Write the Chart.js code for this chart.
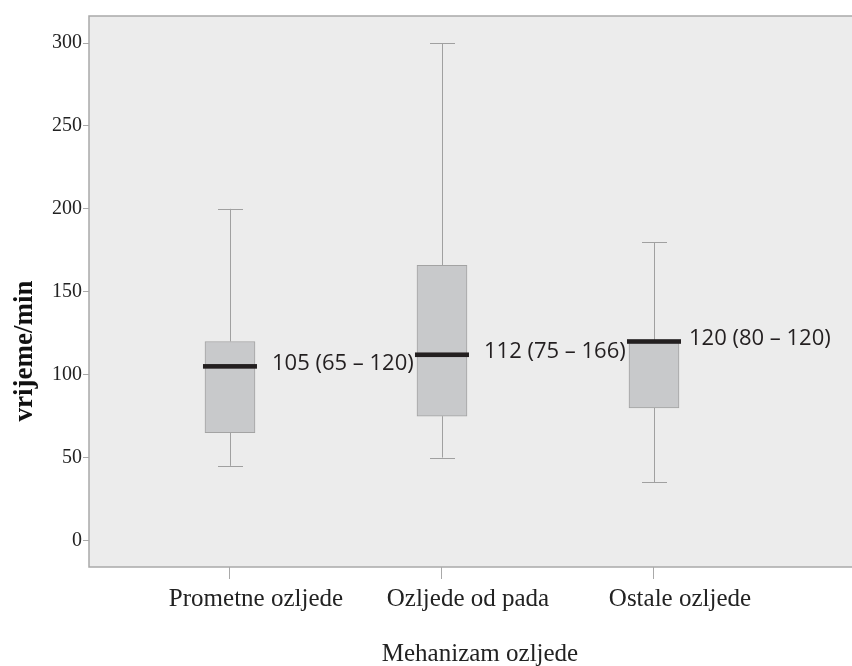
<!DOCTYPE html>
<html>
<head>
<meta charset="utf-8">
<script src="https://cdn.jsdelivr.net/npm/chart.js@4"></script>
<style>
  html, body { margin: 0; padding: 0; background: #fff; }
  canvas { display: block; }
</style>
</head>
<body>
<canvas id="chartCanvas" width="852" height="666"></canvas>
<script>
// --- data ---
const categories = ["Prometne ozljede", "Ozljede od pada", "Ostale ozljede"];
const whiskerLow = [45, 50, 35];
const q1 = [65, 75, 80];
const median = [105, 112, 120];
const q3 = [120, 166, 120];
const whiskerHigh = [200, 300, 180];
const medianLabels = ["105 (65 – 120)", "112 (75 – 166)", "120 (80 – 120)"];
const yTicks = [0, 50, 100, 150, 200, 250, 300];

const xTitle = "Mehanizam ozljede";
const yTitle = "vrijeme/min";

const serif = '"Liberation Serif", "Times New Roman", serif';
const sans = '"Open Sans", "Noto Sans", sans-serif';

// --- plot background + frame ---
const backdrop = {
  id: "backdrop",
  beforeDraw(chart) {
    const { ctx, chartArea: a } = chart;
    ctx.save();
    ctx.fillStyle = "#ececec";
    ctx.fillRect(a.left, a.top, a.right - a.left, a.bottom - a.top);
    ctx.strokeStyle = "#a9a9a9";
    ctx.lineWidth = 1.5;
    ctx.beginPath();
    ctx.moveTo(a.right, a.top);
    ctx.lineTo(a.left, a.top);
    ctx.lineTo(a.left, a.bottom);
    ctx.lineTo(a.right, a.bottom);
    ctx.stroke();
    ctx.restore();
  }
};

// --- whiskers, medians and labels ---
const boxParts = {
  id: "boxParts",
  beforeDatasetsDraw(chart) {
    const { ctx, scales: { x, y } } = chart;
    ctx.save();
    ctx.strokeStyle = "#a0a0a0";
    ctx.lineWidth = 1;
    categories.forEach((c, i) => {
      const px = Math.round(x.getPixelForValue(i)) + 0.5;
      const hi = y.getPixelForValue(whiskerHigh[i]);
      const lo = y.getPixelForValue(whiskerLow[i]);
      ctx.beginPath();
      ctx.moveTo(px, hi); ctx.lineTo(px, y.getPixelForValue(q3[i]));
      ctx.moveTo(px, y.getPixelForValue(q1[i])); ctx.lineTo(px, lo);
      ctx.moveTo(px - 12.5, Math.round(hi) + 0.5); ctx.lineTo(px + 12.5, Math.round(hi) + 0.5);
      ctx.moveTo(px - 12.5, Math.round(lo) + 0.5); ctx.lineTo(px + 12.5, Math.round(lo) + 0.5);
      ctx.stroke();
    });
    ctx.restore();
  },
  afterDatasetsDraw(chart) {
    const { ctx, scales: { x, y } } = chart;
    ctx.save();
    categories.forEach((c, i) => {
      const px = x.getPixelForValue(i);
      const py = y.getPixelForValue(median[i]);
      ctx.fillStyle = "#231f20";
      ctx.fillRect(px - 27, py - 2.3, 54, 4.6);
      ctx.font = "22px " + sans;
      ctx.textBaseline = "middle";
      ctx.textAlign = "left";
      ctx.fillText(medianLabels[i], px + (i === 2 ? 35 : 42), py - 3);
    });
    // axis titles
    ctx.fillStyle = "#222";
    ctx.font = "25px " + serif;
    ctx.textAlign = "center";
    ctx.textBaseline = "alphabetic";
    ctx.fillText(xTitle, 480, 661);
    ctx.translate(32, 351);
    ctx.rotate(-Math.PI / 2);
    ctx.font = "bold 27px " + serif;
    ctx.fillStyle = "#111";
    ctx.fillText(yTitle, 0, 0);
    ctx.restore();
  }
};

const canvas = document.getElementById("chartCanvas");

new Chart(canvas, {
  type: "bar",
  data: {
    datasets: [{
      data: categories.map((c, i) => ({ x: i, y: [q1[i], q3[i]] })),
      backgroundColor: "#c8c9cb",
      borderColor: "#a3a3a3",
      borderWidth: 1,
      borderSkipped: false,
      barThickness: 50
    }]
  },
  options: {
    responsive: false,
    animation: false,
    layout: { padding: { top: 16, right: 0, left: 0, bottom: 0 } },
    plugins: { legend: { display: false }, tooltip: { enabled: false } },
    scales: {
      x: {
        type: "linear",
        offset: false,
        min: -0.665,
        max: 2.934,
        afterBuildTicks: s => { s.ticks = categories.map((c, i) => ({ value: i })); },
        afterFit: s => { s.height = 99; },
        ticks: {
          callback: v => categories[v],
          font: { family: serif, size: 25 },
          color: "#222",
          padding: 5,
          labelOffset: 26,
          maxRotation: 0,
          autoSkip: false
        },
        grid: { display: true, offset: false, drawOnChartArea: false, tickLength: 12, color: "#a9a9a9" },
        border: { display: false }
      },
      y: {
        min: -16,
        max: 316.3,
        afterBuildTicks: s => { s.ticks = yTicks.map(v => ({ value: v })); },
        afterFit: s => { s.width = 89; },
        ticks: {
          font: { family: serif, size: 20 },
          color: "#222",
          padding: 1
        },
        grid: { display: true, drawOnChartArea: false, tickLength: 6, color: "#a9a9a9" },
        border: { display: false }
      }
    }
  },
  plugins: [backdrop, boxParts]
});
</script>
</body>
</html>
